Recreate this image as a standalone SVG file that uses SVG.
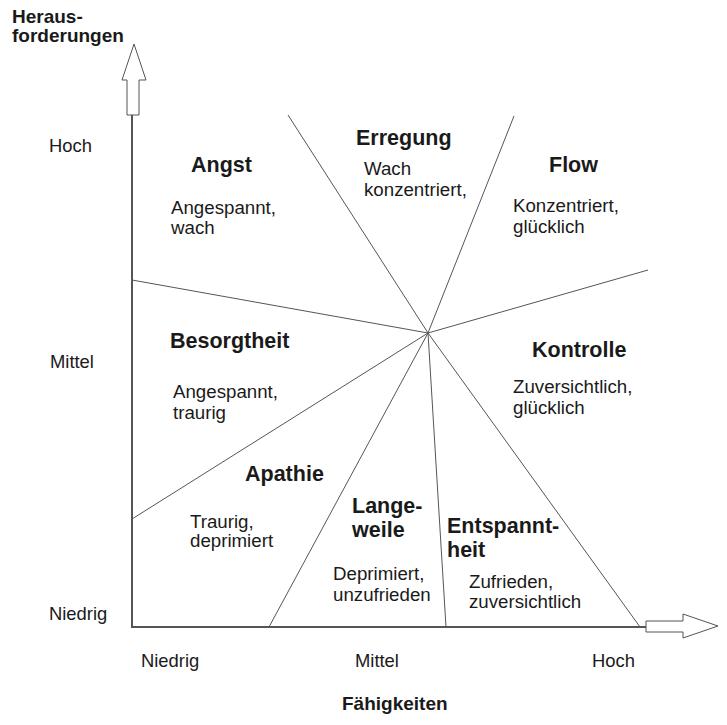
<svg xmlns="http://www.w3.org/2000/svg" width="727" height="725" viewBox="0 0 727 725">
<style>
.t{font-family:"Liberation Sans",Arial,sans-serif;font-size:18.7px;fill:#1a1a1a}
.b{font-family:"Liberation Sans",Arial,sans-serif;font-size:21.5px;font-weight:bold;fill:#1a1a1a}
.ax{font-family:"Liberation Sans",Arial,sans-serif;font-size:18.4px;fill:#1a1a1a}
.ln{stroke:#555;stroke-width:1;fill:none}
.axis{stroke:#555;stroke-width:2;fill:none}
.arr{stroke:#555;stroke-width:1;fill:#fff}
</style>
<rect width="727" height="725" fill="#fff"/>
<g id="connectors">
<line class="ln" x1="428" y1="333" x2="288" y2="115"/>
<line class="ln" x1="428" y1="333" x2="514" y2="116"/>
<line class="ln" x1="428" y1="333" x2="648" y2="270"/>
<line class="ln" x1="428" y1="333" x2="132" y2="280"/>
<line class="ln" x1="428" y1="333" x2="132" y2="519"/>
<line class="ln" x1="428" y1="333" x2="269" y2="627"/>
<line class="ln" x1="428" y1="333" x2="446" y2="627"/>
<line class="ln" x1="428" y1="333" x2="640" y2="627"/>
</g>
<g id="axes">
<line class="axis" x1="132" y1="115" x2="132" y2="627"/>
<line class="axis" x1="131" y1="627" x2="646" y2="627"/>
<polygon id="arrow-up" class="arr" points="127,115 127,80 122,80 134,44 146,80 139,80 139,115"/>
<polygon id="arrow-right" class="arr" points="646,621 683,621 683,614 718,626 683,638 683,632 646,632"/>
<text class="b" x="12" y="23" style="font-size:19px">Heraus-</text>
<text class="b" x="12" y="42" style="font-size:19px">forderungen</text>
<text class="ax" x="49" y="152">Hoch</text>
<text class="ax" x="50" y="368">Mittel</text>
<text class="ax" x="49" y="620">Niedrig</text>
<text class="ax" x="141" y="667">Niedrig</text>
<text class="ax" x="355" y="667">Mittel</text>
<text class="ax" x="592" y="667">Hoch</text>
<text class="b" x="342" y="710" style="font-size:19px">Fähigkeiten</text>
</g>
<g id="angst">
<text class="b" x="191" y="172">Angst</text>
<text class="t" x="171" y="214">Angespannt,</text>
<text class="t" x="171" y="234">wach</text>
</g>
<g id="erregung">
<text class="b" x="356" y="145">Erregung</text>
<text class="t" x="364" y="175">Wach</text>
<text class="t" x="364" y="196">konzentriert,</text>
</g>
<g id="flow">
<text class="b" x="549" y="172">Flow</text>
<text class="t" x="513" y="212">Konzentriert,</text>
<text class="t" x="513" y="233">glücklich</text>
</g>
<g id="besorgtheit">
<text class="b" x="170" y="348">Besorgtheit</text>
<text class="t" x="173" y="398">Angespannt,</text>
<text class="t" x="173" y="419">traurig</text>
</g>
<g id="kontrolle">
<text class="b" x="532" y="357">Kontrolle</text>
<text class="t" x="513" y="393">Zuversichtlich,</text>
<text class="t" x="513" y="414">glücklich</text>
</g>
<g id="apathie">
<text class="b" x="245" y="481">Apathie</text>
<text class="t" x="190" y="528">Traurig,</text>
<text class="t" x="190" y="547">deprimiert</text>
</g>
<g id="langeweile">
<text class="b" x="352" y="513">Lange-</text>
<text class="b" x="352" y="537">weile</text>
<text class="t" x="333" y="580">Deprimiert,</text>
<text class="t" x="333" y="601">unzufrieden</text>
</g>
<g id="entspanntheit">
<text class="b" x="447" y="533">Entspannt-</text>
<text class="b" x="447" y="557">heit</text>
<text class="t" x="469" y="588">Zufrieden,</text>
<text class="t" x="469" y="608">zuversichtlich</text>
</g>
</svg>
